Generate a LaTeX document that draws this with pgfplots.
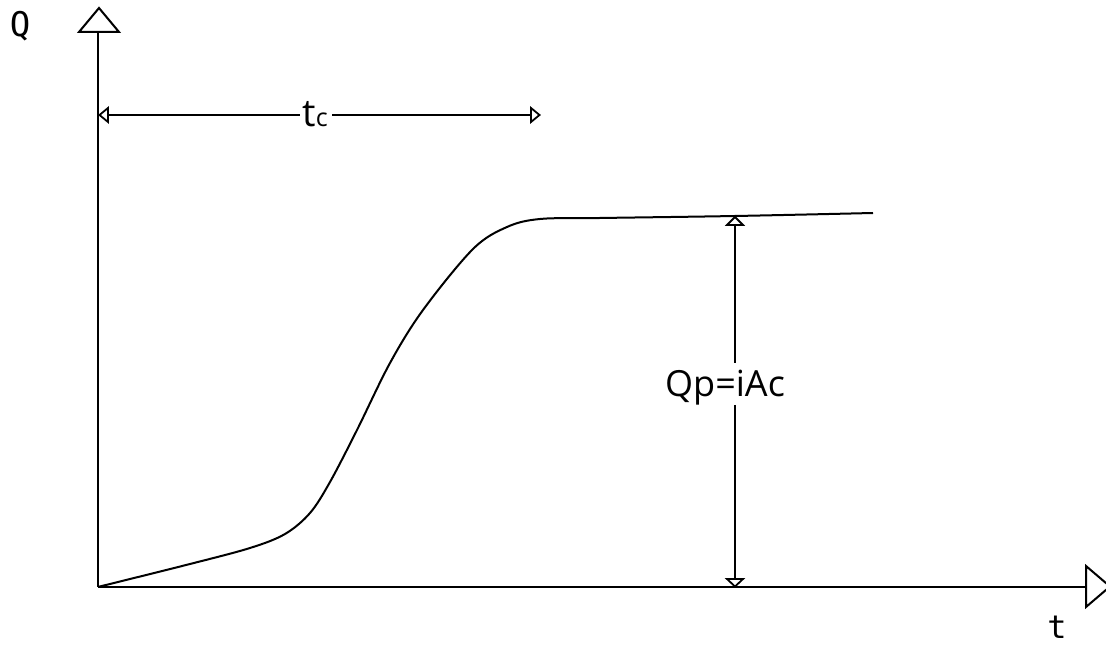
\documentclass[border=0pt]{standalone}
\usepackage{pgfplots}
\pgfplotsset{compat=1.18}
\usepackage{fontspec}
\setmainfont{Open Sans}
\newfontfamily\monof{DejaVu Sans Mono}
\begin{document}
\begin{tikzpicture}
\begin{axis}[x=1pt,y=1pt,xmin=0,xmax=1106,ymin=0,ymax=648,hide axis,scale only axis,clip=true,anchor=origin,at={(0,0)}]
% curve
\addplot[black,line width=2pt,smooth,tension=0.55] coordinates {
(99,61.3) (190,84) (250,100) (285,114) (310,135) (330,166) (357,218) (390,285)
(423,338) (473,399) (507,421) (540,429) (600,430) (735,432) (873,435)};
% axes
\draw[line width=2pt] (axis cs:98,61) -- (axis cs:98,616);
\draw[line width=2pt] (axis cs:98,61) -- (axis cs:1086,61);
\draw[line width=2pt,fill=white,line join=miter] (axis cs:79,616) -- (axis cs:119,616) -- (axis cs:99,640) -- cycle;
\draw[line width=2pt,fill=white,line join=miter] (axis cs:1086,82) -- (axis cs:1086,41) -- (axis cs:1110,61.5) -- cycle;
% tc arrow
\draw[line width=1.8pt] (axis cs:108,533) -- (axis cs:300,533);
\draw[line width=1.8pt] (axis cs:332,533) -- (axis cs:531,533);
\draw[line width=1.8pt,fill=white] (axis cs:108,540) -- (axis cs:108,526) -- (axis cs:99.5,533) -- cycle;
\draw[line width=1.8pt,fill=white] (axis cs:531,540) -- (axis cs:531,526) -- (axis cs:539.5,533) -- cycle;
\node[inner sep=0pt,anchor=base] at (axis cs:315,521) {\fontsize{38}{38}\selectfont t{\fontsize{25}{25}\selectfont c}};
% Qp arrow
\draw[line width=1.8pt] (axis cs:735,423) -- (axis cs:735,285);
\draw[line width=1.8pt] (axis cs:735,243) -- (axis cs:735,69);
\draw[line width=1.8pt,fill=white] (axis cs:727,423) -- (axis cs:743,423) -- (axis cs:735,431) -- cycle;
\draw[line width=1.8pt,fill=white] (axis cs:727,69) -- (axis cs:743,69) -- (axis cs:735,61.5) -- cycle;
\node[inner sep=0pt,anchor=base] at (axis cs:725,251) {\fontsize{36}{36}\selectfont Qp=iAc};
% axis labels
\node[inner sep=0pt] at (axis cs:20,622) {\fontsize{34}{34}\selectfont\monof Q};
\node[inner sep=0pt] at (axis cs:1057,21) {\fontsize{32}{32}\selectfont\monof t};
\end{axis}
\pgfresetboundingbox
\path[use as bounding box] (0,0) rectangle (1106pt,648pt);
\end{tikzpicture}
\end{document}
